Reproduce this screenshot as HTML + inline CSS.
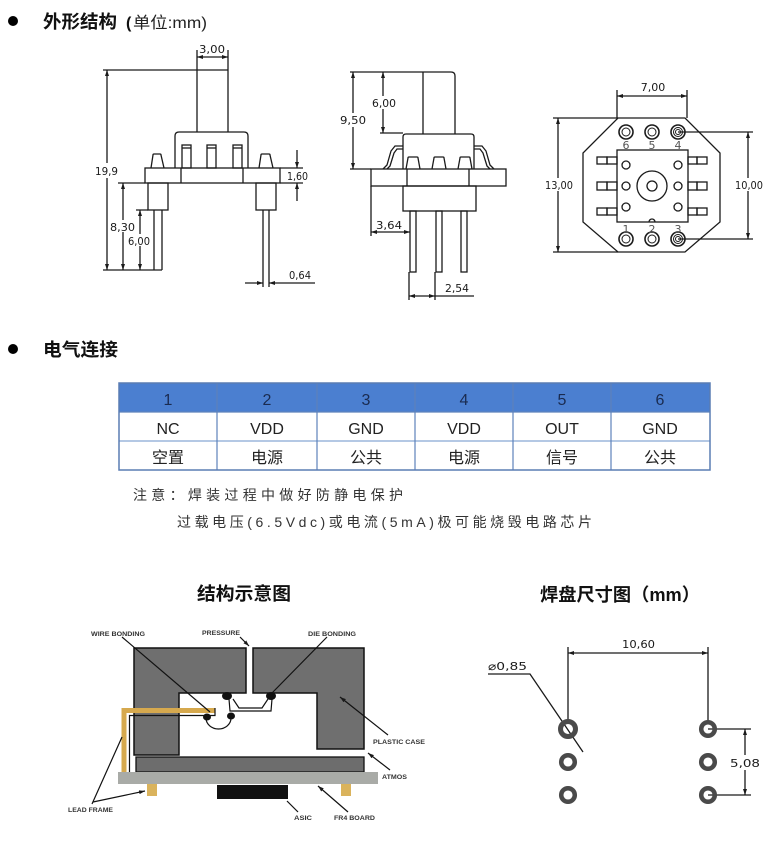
<!DOCTYPE html>
<html><head><meta charset="utf-8">
<style>
html,body{margin:0;padding:0;background:#fff;}
svg{display:block;}
.d{font-family:"DejaVu Sans","Liberation Sans",sans-serif;font-size:11px;fill:#1a1a1a;}
.h{font-family:"Liberation Sans","Noto Sans CJK SC",sans-serif;font-weight:bold;fill:#111;}
.t{font-family:"Liberation Sans","Noto Sans CJK SC",sans-serif;font-size:16px;fill:#222;}
.l{font-family:"Liberation Sans",sans-serif;font-size:6.5px;font-weight:bold;fill:#333;}
</style></head><body>
<svg width="780" height="848" viewBox="0 0 780 848" xmlns="http://www.w3.org/2000/svg">
<defs>
<marker id="a" viewBox="0 0 10 10" refX="10" refY="5" markerWidth="6" markerHeight="4" preserveAspectRatio="none" orient="auto-start-reverse" markerUnits="userSpaceOnUse"><path d="M0 0 L10 5 L0 10z" fill="#1a1a1a"/></marker>
</defs>

<!-- Section 1 heading -->
<circle cx="13" cy="21" r="5" fill="#000"/>
<text class="h" x="43" y="28" font-size="18" textLength="74" lengthAdjust="spacingAndGlyphs">外形结构</text>
<text class="h" x="126" y="28" font-size="16">(</text>
<text x="133" y="28" font-family="Liberation Sans,Noto Sans CJK SC,sans-serif" font-size="16" fill="#222" textLength="74" lengthAdjust="spacingAndGlyphs">单位:mm)</text>

<!-- Drawing 1 -->
<g fill="none" stroke="#1a1a1a" stroke-width="1.3">
<path d="M197 50V132 M228 50V132"/>
<line x1="197" y1="57" x2="228" y2="57" marker-start="url(#a)" marker-end="url(#a)"/>
<path d="M103 70H228"/>
<line x1="107" y1="70" x2="107" y2="270" marker-start="url(#a)" marker-end="url(#a)"/>
<path d="M175 168V136Q175 132 179 132H244Q248 132 248 136V168"/>
<rect x="182" y="145" width="9" height="23"/><path d="M182 148H191"/>
<rect x="207" y="145" width="9" height="23"/><path d="M207 148H216"/>
<rect x="233" y="145" width="9" height="23"/><path d="M233 148H242"/>
<rect x="145" y="168" width="135" height="15"/>
<path d="M181 168V183 M243 168V183"/>
<path d="M151 168L153 155Q153 154 154 154H160Q161 154 161 155L164 168"/>
<path d="M259 168L261 155Q261 154 262 154H269Q270 154 270 155L273 168"/>
<path d="M118 183H145"/>
<path d="M280 168H303 M280 183H303"/>
<line x1="297" y1="150" x2="297" y2="168" marker-end="url(#a)"/>
<line x1="297" y1="201" x2="297" y2="183" marker-end="url(#a)"/>
<rect x="148" y="183" width="20" height="27"/>
<path d="M154 210V270 M162 210V270 M136 210H148 M103 270H162"/>
<line x1="123" y1="183" x2="123" y2="270" marker-start="url(#a)" marker-end="url(#a)"/>
<line x1="140" y1="210" x2="140" y2="270" marker-start="url(#a)" marker-end="url(#a)"/>
<rect x="256" y="183" width="20" height="27"/>
<path d="M263 210V287 M269 210V287"/>
<line x1="245" y1="283" x2="263" y2="283" marker-end="url(#a)"/>
<line x1="315" y1="283" x2="269" y2="283" marker-end="url(#a)"/>
</g>
<rect x="94" y="163" width="25" height="15" fill="#fff"/>
<text class="d" x="95" y="175" textLength="23" lengthAdjust="spacingAndGlyphs">19,9</text>
<text class="d" x="199" y="53" textLength="26" lengthAdjust="spacingAndGlyphs">3,00</text>
<rect x="287" y="170" width="21" height="12" fill="#fff"/>
<text class="d" x="287" y="180" textLength="21" lengthAdjust="spacingAndGlyphs">1,60</text>
<rect x="110" y="220" width="25" height="12" fill="#fff"/>
<text class="d" x="110" y="231" textLength="25" lengthAdjust="spacingAndGlyphs">8,30</text>
<rect x="128" y="234" width="23" height="12" fill="#fff"/>
<text class="d" x="128" y="245" textLength="22" lengthAdjust="spacingAndGlyphs">6,00</text>
<text class="d" x="289" y="279" textLength="22" lengthAdjust="spacingAndGlyphs">0,64</text>

<!-- Drawing 2 -->
<g fill="none" stroke="#1a1a1a" stroke-width="1.3">
<path d="M350 72H451Q455 72 455 76V134 M423 72V134"/>
<line x1="383" y1="72" x2="383" y2="133" marker-start="url(#a)" marker-end="url(#a)"/>
<path d="M380 133H403"/>
<line x1="353" y1="72" x2="353" y2="169" marker-start="url(#a)" marker-end="url(#a)"/>
<path d="M350 169H371"/>
<path d="M403 169V137Q403 134 406 134H471Q474 134 474 137V169"/>
<path d="M406 169L408 158Q408 157 409 157H417Q418 157 418 158L420 169"/>
<path d="M432 169L434 158Q434 157 435 157H443Q444 157 444 158L446 169"/>
<path d="M458 169L460 158Q460 157 461 157H469Q470 157 470 158L472 169"/>
<path d="M403 146H395L391 151L387 165L383 169 M403 149H397L394 153L390 166L387 169"/>
<path d="M474 146H482L486 151L490 165L494 169 M474 149H480L483 153L487 166L490 169"/>
<rect x="371" y="169" width="135" height="17"/>
<path d="M407 169V186 M469 169V186"/>
<rect x="403" y="186" width="73" height="25"/>
<rect x="410" y="211" width="6" height="61"/>
<rect x="436" y="211" width="6" height="61"/>
<rect x="461" y="211" width="6" height="61"/>
<path d="M371 186V236"/>
<line x1="371" y1="232" x2="410" y2="232" marker-start="url(#a)" marker-end="url(#a)"/>
<path d="M409 272V300 M435 272V300"/>
<line x1="409" y1="296" x2="435" y2="296" marker-start="url(#a)" marker-end="url(#a)"/>
<path d="M435 296H474"/>
</g>
<rect x="371" y="96" width="26" height="13" fill="#fff"/>
<text class="d" x="372" y="107" textLength="24" lengthAdjust="spacingAndGlyphs">6,00</text>
<rect x="339" y="113" width="28" height="14" fill="#fff"/>
<text class="d" x="340" y="124" textLength="26" lengthAdjust="spacingAndGlyphs">9,50</text>
<text class="d" x="376" y="229" textLength="26" lengthAdjust="spacingAndGlyphs">3,64</text>
<text class="d" x="445" y="292" textLength="24" lengthAdjust="spacingAndGlyphs">2,54</text>

<!-- Drawing 3 -->
<g fill="none" stroke="#1a1a1a" stroke-width="1.3">
<path d="M618 118H685L720 153V222L685 252H618L583 222V153Z"/>
<rect x="617" y="150" width="71" height="72"/>
<path d="M617 90V118 M687 90V118"/>
<line x1="617" y1="96" x2="687" y2="96" marker-start="url(#a)" marker-end="url(#a)"/>
<path d="M553 118H618 M553 252H618"/>
<line x1="558" y1="118" x2="558" y2="252" marker-start="url(#a)" marker-end="url(#a)"/>
<path d="M678 132H753 M678 239H753"/>
<line x1="748" y1="132" x2="748" y2="239" marker-start="url(#a)" marker-end="url(#a)"/>
<rect x="597" y="157" width="10" height="7"/><rect x="607" y="157" width="10" height="7"/>
<rect x="597" y="182" width="10" height="8"/><rect x="607" y="182" width="10" height="8"/>
<rect x="597" y="208" width="10" height="7"/><rect x="607" y="208" width="10" height="7"/>
<rect x="688" y="157" width="9" height="7"/><rect x="697" y="157" width="10" height="7"/>
<rect x="688" y="182" width="9" height="8"/><rect x="697" y="182" width="10" height="8"/>
<rect x="688" y="208" width="9" height="7"/><rect x="697" y="208" width="10" height="7"/>
<circle cx="652" cy="186" r="15"/><circle cx="652" cy="186" r="5"/>
<circle cx="626" cy="165" r="4"/><circle cx="626" cy="186" r="4"/><circle cx="626" cy="207" r="4"/>
<circle cx="678" cy="165" r="4"/><circle cx="678" cy="186" r="4"/><circle cx="678" cy="207" r="4"/>
<path d="M649 222A3 3 0 0 1 655 222"/>
</g>
<g fill="none" stroke="#1a1a1a">
<circle cx="626" cy="132" r="7" stroke-width="1.6"/><circle cx="626" cy="132" r="4"/>
<circle cx="652" cy="132" r="7" stroke-width="1.6"/><circle cx="652" cy="132" r="4"/>
<circle cx="678" cy="132" r="7" stroke-width="1.6"/><circle cx="678" cy="132" r="4.5"/><circle cx="678" cy="132" r="2.5"/>
<circle cx="626" cy="239" r="7" stroke-width="1.6"/><circle cx="626" cy="239" r="4"/>
<circle cx="652" cy="239" r="7" stroke-width="1.6"/><circle cx="652" cy="239" r="4"/>
<circle cx="678" cy="239" r="7" stroke-width="1.6"/><circle cx="678" cy="239" r="4.5"/><circle cx="678" cy="239" r="2.5"/>
</g>
<g font-family="DejaVu Sans,sans-serif" font-size="11" fill="#555" text-anchor="middle">
<text x="626" y="149">6</text><text x="652" y="149">5</text><text x="678" y="149">4</text>
<text x="626" y="233">1</text><text x="652" y="233">2</text><text x="678" y="233">3</text>
</g>
<text class="d" x="653" y="91" text-anchor="middle">7,00</text>
<rect x="544" y="178" width="29" height="13" fill="#fff"/>
<text class="d" x="545" y="189" textLength="28" lengthAdjust="spacingAndGlyphs">13,00</text>
<rect x="734" y="178" width="29" height="13" fill="#fff"/>
<text class="d" x="735" y="189" textLength="28" lengthAdjust="spacingAndGlyphs">10,00</text>

<!-- Section 2 heading -->
<circle cx="13" cy="349" r="5" fill="#000"/>
<text class="h" x="43" y="356" font-size="18" textLength="75" lengthAdjust="spacingAndGlyphs">电气连接</text>

<!-- Table -->
<rect x="119" y="383" width="591" height="29" fill="#4b7fd0"/>
<g stroke="#86a6d3" stroke-width="1.2">
<path d="M119 441H710"/>
</g>
<g stroke="#5d82bb" stroke-width="1.2">
<path d="M119 412H710"/>
<path d="M217 383V470 M317 383V470 M415 383V470 M513 383V470 M611 383V470"/>
</g>
<rect x="119" y="383" width="591" height="87" fill="none" stroke="#5a7db3" stroke-width="1.5"/>
<g class="t" text-anchor="middle">
<text x="168" y="405" fill="#1a2b50">1</text><text x="267" y="405" fill="#1a2b50">2</text><text x="366" y="405" fill="#1a2b50">3</text>
<text x="464" y="405" fill="#1a2b50">4</text><text x="562" y="405" fill="#1a2b50">5</text><text x="660" y="405" fill="#1a2b50">6</text>
<text x="168" y="434">NC</text><text x="267" y="434">VDD</text><text x="366" y="434">GND</text>
<text x="464" y="434">VDD</text><text x="562" y="434">OUT</text><text x="660" y="434">GND</text>
<text x="168" y="463">空置</text><text x="267" y="463">电源</text><text x="366" y="463">公共</text>
<text x="464" y="463">电源</text><text x="562" y="463">信号</text><text x="660" y="463">公共</text>
</g>

<!-- Note -->
<text x="133" y="500" font-family="Liberation Sans,Noto Sans CJK SC,sans-serif" font-size="14" fill="#333" textLength="270" lengthAdjust="spacing">注意：焊装过程中做好防静电保护</text>
<text x="177" y="527" font-family="Liberation Sans,Noto Sans CJK SC,sans-serif" font-size="14" fill="#333" textLength="415" lengthAdjust="spacing">过载电压(6.5Vdc)或电流(5mA)极可能烧毁电路芯片</text>

<!-- Structure diagram -->
<text class="h" x="197" y="600" font-size="18" fill="#222" textLength="94" lengthAdjust="spacingAndGlyphs">结构示意图</text>
<path d="M134 648H246V693H179V755H134Z" fill="#6f6f6f" stroke="#111" stroke-width="1.5"/>
<path d="M253 648H364V749H317V693H253Z" fill="#6f6f6f" stroke="#111" stroke-width="1.5"/>
<rect x="136" y="757" width="228" height="15" fill="#6d6d6d" stroke="#111" stroke-width="1.3"/>
<rect x="118" y="772" width="260" height="12" fill="#a9aba7"/>
<path d="M124 772V710.5H215" fill="none" stroke="#d6a94e" stroke-width="5"/>
<path d="M129.5 772V715.5H215V708" fill="none" stroke="#111" stroke-width="1.2"/>
<rect x="147" y="784" width="10" height="12" fill="#dab35c"/>
<rect x="341" y="784" width="10" height="12" fill="#dab35c"/>
<rect x="217" y="785" width="71" height="14" fill="#111"/>
<g fill="#111">
<ellipse cx="227" cy="696" rx="5" ry="4"/>
<ellipse cx="271" cy="696" rx="5" ry="4"/>
<ellipse cx="207" cy="717" rx="4" ry="3.5"/>
<ellipse cx="231" cy="716" rx="4" ry="3.5"/>
</g>
<g fill="none" stroke="#111" stroke-width="1.2">
<path d="M229 699L230 711H271L272 699"/>
<path d="M233 699L239 708H262L268 699"/>
<path d="M206 718A12.5 11 0 0 0 231 718"/>
<path d="M122 637L210 712"/>
<path d="M327 637L272 693"/>
<line x1="240" y1="637" x2="249" y2="646" marker-end="url(#a)"/>
<line x1="388" y1="735" x2="340" y2="697" marker-end="url(#a)"/>
<line x1="390" y1="770" x2="368" y2="753" marker-end="url(#a)"/>
<path d="M92 804L122 737"/>
<line x1="93" y1="802" x2="145" y2="791" marker-end="url(#a)"/>
<path d="M298 812L287 801"/>
<line x1="348" y1="812" x2="318" y2="786" marker-end="url(#a)"/>
</g>
<text class="l" x="91" y="636" textLength="54" lengthAdjust="spacingAndGlyphs">WIRE BONDING</text>
<text class="l" x="202" y="635" textLength="38" lengthAdjust="spacingAndGlyphs">PRESSURE</text>
<text class="l" x="308" y="636" textLength="48" lengthAdjust="spacingAndGlyphs">DIE BONDING</text>
<text class="l" x="373" y="744" textLength="52" lengthAdjust="spacingAndGlyphs">PLASTIC CASE</text>
<text class="l" x="382" y="779" textLength="25" lengthAdjust="spacingAndGlyphs">ATMOS</text>
<text class="l" x="68" y="812" textLength="45" lengthAdjust="spacingAndGlyphs">LEAD FRAME</text>
<text class="l" x="294" y="820" textLength="18" lengthAdjust="spacingAndGlyphs">ASIC</text>
<text class="l" x="334" y="820" textLength="41" lengthAdjust="spacingAndGlyphs">FR4 BOARD</text>

<!-- Pad drawing -->
<text class="h" x="540" y="601" font-size="18" fill="#222" textLength="160" lengthAdjust="spacingAndGlyphs">焊盘尺寸图（mm）</text>
<g fill="none" stroke="#1a1a1a" stroke-width="1.3">
<path d="M568 647V722 M708 647V722"/>
<line x1="568" y1="653" x2="708" y2="653" marker-start="url(#a)" marker-end="url(#a)"/>
<path d="M488 674H530L583 752"/>
<path d="M708 729H751 M708 795H751"/>
<line x1="745" y1="729" x2="745" y2="795" marker-start="url(#a)" marker-end="url(#a)"/>
</g>
<g fill="none" stroke="#4a4a4a" stroke-width="4.5">
<circle cx="568" cy="729" r="7.5" stroke-width="5"/>
<circle cx="568" cy="762" r="6.8"/>
<circle cx="568" cy="795" r="6.8"/>
<circle cx="708" cy="729" r="6.8"/>
<circle cx="708" cy="762" r="6.8"/>
<circle cx="708" cy="795" r="6.8"/>
</g>
<text class="d" x="622" y="648" font-size="12" textLength="33" lengthAdjust="spacingAndGlyphs">10,60</text>
<text class="d" x="488" y="670" font-size="12" textLength="39" lengthAdjust="spacingAndGlyphs">⌀0,85</text>
<rect x="729" y="755" width="32" height="15" fill="#fff"/>
<text class="d" x="730" y="767" font-size="12" textLength="30" lengthAdjust="spacingAndGlyphs">5,08</text>
</svg>
</body></html>
